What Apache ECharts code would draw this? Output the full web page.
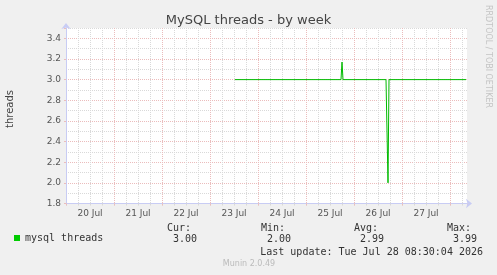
<!DOCTYPE html>
<html>
<head>
<meta charset="utf-8">
<script src="https://cdn.jsdelivr.net/npm/echarts@6/dist/echarts.min.js"></script>
<style>
html, body { margin: 0; padding: 0; background: #f0f0f0; }
#main { width: 497px; height: 275px; }
</style>
</head>
<body>
<div id="main"></div>
<script>
// hours since 20 Jul 00:00
var hours = [84.5, 137.5, 138, 138.5, 160, 161, 161.5, 200];
var threads = [3.0, 3.0, 3.17, 3.0, 3.0, 2.0, 3.0, 3.0];
var days = ['20 Jul', '21 Jul', '22 Jul', '23 Jul', '24 Jul', '25 Jul', '26 Jul', '27 Jul'];
var statLabels = ['Cur:', 'Min:', 'Avg:', 'Max:'];
var statValues = ['3.00', '2.00', '2.99', '3.99'];
var lastUpdate = 'Last update: Tue Jul 28 08:30:04 2026';

var labelFont = 'DejaVu Sans';
var monoFont = 'DejaVu Sans Mono';
var minorColor = '#d9d9d9';
var majorColor = '#ebbcbc';
var axisColor = '#c8ccf4';

var chart = echarts.init(document.getElementById('main'));

var seriesData = [];
for (var i = 0; i < hours.length; i++) {
	seriesData.push([hours[i], threads[i]]);
}

var statX = [197, 291, 384, 477];
var graphics = [];
for (var k = 0; k < statLabels.length; k++) {
	graphics.push({
		type: 'text', x: statX[k] - 6, y: 228,
		style: { text: statLabels[k], fill: '#333', font: '10px ' + monoFont, textAlign: 'right', textVerticalAlign: 'middle' }
	});
	graphics.push({
		type: 'text', x: statX[k], y: 239.5,
		style: { text: statValues[k], fill: '#333', font: '10px ' + monoFont, textAlign: 'right', textVerticalAlign: 'middle' }
	});
}
graphics.push({
	type: 'text', x: 483, y: 252,
	style: { text: lastUpdate, fill: '#333', font: '10px ' + monoFont, textAlign: 'right', textVerticalAlign: 'middle' }
});
graphics.push({
	type: 'text', x: 249, y: 263.5,
	style: { text: 'Munin 2.0.49', fill: '#bbb', font: '8px ' + labelFont, textAlign: 'center', textVerticalAlign: 'middle' }
});
graphics.push({
	type: 'text', x: 488, y: 5, rotation: -Math.PI / 2,
	style: { text: 'RRDTOOL / TOBI OETIKER', fill: '#c4c4c4', font: '8px ' + labelFont, textAlign: 'left', textVerticalAlign: 'middle' }
});
graphics.push({
	type: 'text', x: 10, y: 109, rotation: Math.PI / 2,
	style: { text: 'threads', fill: '#444', font: '10px ' + labelFont, textAlign: 'center', textVerticalAlign: 'middle' }
});

var option = {
	animation: false,
	backgroundColor: '#f0f0f0',
	title: {
		text: 'MySQL threads - by week',
		left: 'center',
		top: 9,
		textStyle: { color: '#444', fontSize: 13, fontWeight: 'normal', fontFamily: labelFont }
	},
	legend: {
		left: 14,
		top: 233,
		padding: 0,
		icon: 'rect',
		itemWidth: 6,
		itemHeight: 6,
		itemGap: 5,
		textStyle: { color: '#333', fontSize: 10, fontFamily: monoFont },
		data: ['mysql threads']
	},
	grid: {
		left: 66,
		top: 28,
		width: 401,
		height: 175.5,
		show: true,
		backgroundColor: '#fff',
		borderWidth: 0
	},
	xAxis: [
		{
			// 6 hour grid
			type: 'value', min: 0, max: 200.5, interval: 6, position: 'bottom',
			axisLine: { show: true, lineStyle: { color: axisColor }, symbol: ['none', 'arrow'], symbolSize: [7, 6], symbolOffset: [0, 5] },
			axisTick: { show: true, length: 2, lineStyle: { color: minorColor } },
			axisLabel: { show: false },
			splitLine: { show: true, showMinLine: false, showMaxLine: false, lineStyle: { color: minorColor, type: [1, 1] } }
		},
		{
			// day grid
			type: 'value', min: 0, max: 200.5, interval: 24, position: 'bottom',
			axisLine: { show: false },
			axisTick: { show: true, length: 2, lineStyle: { color: majorColor } },
			axisLabel: { show: false },
			splitLine: { show: true, showMinLine: false, showMaxLine: false, lineStyle: { color: majorColor, type: [1, 1] } }
		},
		{
			// day labels at noon
			type: 'value', min: 0, max: 200.5, interval: 12, position: 'bottom',
			axisLine: { show: false },
			axisTick: { show: false },
			splitLine: { show: false },
			axisLabel: {
				margin: 6,
				color: '#555',
				fontSize: 9,
				fontFamily: labelFont,
				formatter: function (v) {
					if (v % 24 !== 12) return '';
					return days[(v - 12) / 24] || '';
				}
			}
		}
	],
	yAxis: [
		{
			type: 'value', min: 1.8, max: 3.5, interval: 0.1, position: 'left',
			axisLine: { show: false },
			axisTick: { show: false },
			axisLabel: { show: false },
			splitLine: { show: true, showMinLine: false, lineStyle: { color: minorColor, type: [1, 1] } }
		},
		{
			type: 'value', min: 1.8, max: 3.5, interval: 0.2, position: 'left',
			axisLine: { show: true, lineStyle: { color: axisColor }, symbol: ['none', 'arrow'], symbolSize: [7, 6], symbolOffset: [0, 5] },
			axisTick: { show: true, length: 2, lineStyle: { color: majorColor } },
			axisLabel: {
				margin: 5,
				color: '#555',
				fontSize: 9,
				fontFamily: labelFont,
				formatter: function (v) {
					return Math.round(v * 10) % 2 === 0 ? v.toFixed(1) : '';
				}
			},
			splitLine: { show: true, showMinLine: false, showMaxLine: false, lineStyle: { color: majorColor, type: [1, 1] } }
		}
	],
	series: [
		{
			name: 'mysql threads',
			type: 'line',
			xAxisIndex: 0,
			yAxisIndex: 1,
			showSymbol: false,
			color: '#00cc00',
			lineStyle: { width: 1, color: '#00bb00' },
			data: seriesData
		}
	],
	graphic: graphics
};
chart.setOption(option);
</script>
</body>
</html>
